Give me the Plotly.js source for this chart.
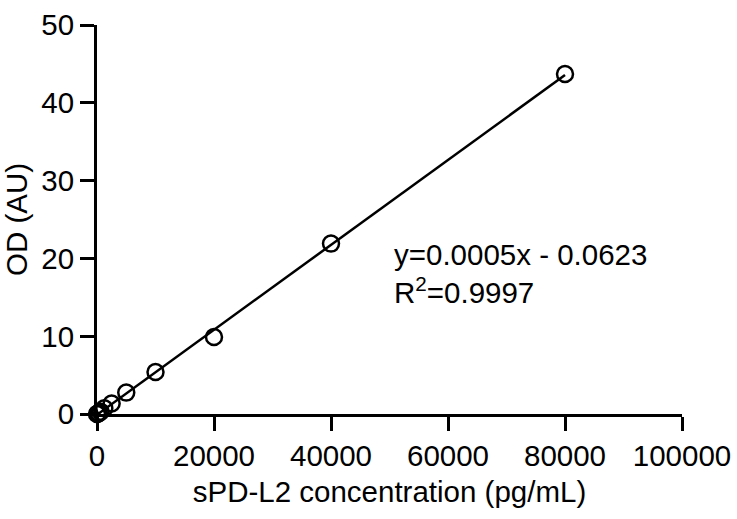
<!DOCTYPE html>
<html>
<head>
<meta charset="utf-8">
<script src="https://cdn.plot.ly/plotly-3.0.1.min.js"></script>
<style>
  html, body { margin: 0; padding: 0; background: #fff; }
  #chart { width: 737px; height: 519px; }
</style>
</head>
<body>
<div id="chart"></div>
<script>
// Standard curve: sPD-L2 concentration vs optical density
const concentration = [0, 156.25, 312.5, 625, 1250, 2500, 5000, 10000, 20000, 40000, 80000];
const od = [0, 0.05, 0.12, 0.3, 0.75, 1.35, 2.75, 5.4, 9.9, 21.9, 43.7];
const xTicks = [0, 20000, 40000, 60000, 80000, 100000];
const yTicks = [0, 10, 20, 30, 40, 50];
const equationText = "y=0.0005x - 0.0623";
const r2Text = "R<sup>2</sup>=0.9997";

// Ordinary least-squares fit through the standards
function linearFit(xs, ys) {
  const n = xs.length;
  const mx = xs.reduce((a, b) => a + b, 0) / n;
  const my = ys.reduce((a, b) => a + b, 0) / n;
  let sxy = 0, sxx = 0;
  for (let i = 0; i < n; i++) {
    sxy += (xs[i] - mx) * (ys[i] - my);
    sxx += (xs[i] - mx) * (xs[i] - mx);
  }
  const slope = sxy / sxx;
  return { slope: slope, intercept: my - slope * mx };
}
const fit = linearFit(concentration, od);
const fitX = [Math.min(...concentration), Math.max(...concentration)];
const fitY = fitX.map(x => fit.slope * x + fit.intercept);

const font = { family: "Liberation Sans, Arial, Helvetica, sans-serif", size: 29.5, color: "#000" };

const traces = [
  {
    x: fitX, y: fitY, mode: "lines", type: "scatter",
    line: { color: "#000", width: 2.5 },
    hoverinfo: "skip", cliponaxis: false
  },
  {
    x: concentration, y: od, mode: "markers", type: "scatter",
    marker: { symbol: "circle-open", size: 16, color: "#000", line: { color: "#000", width: 2.5 } },
    cliponaxis: false
  }
];

const axisCommon = {
  showgrid: false, zeroline: false,
  showline: true, linecolor: "#000", linewidth: 3,
  ticks: "outside", ticklen: 14, tickwidth: 3, tickcolor: "#000",
  tickfont: font, tickmode: "array"
};

const layout = {
  width: 737, height: 519,
  margin: { l: 97, r: 55, t: 25, b: 105 },
  paper_bgcolor: "#fff", plot_bgcolor: "#fff",
  showlegend: false,
  font: font,
  xaxis: Object.assign({}, axisCommon, {
    range: [0, 100000], tickvals: xTicks, ticktext: xTicks.map(String),
    title: { text: "sPD-L2 concentration (pg/mL)", font: font, standoff: 10 }
  }),
  yaxis: Object.assign({}, axisCommon, {
    range: [0, 50], tickvals: yTicks, ticktext: yTicks.map(String),
    title: { text: "OD (AU)", font: font, standoff: 6 }
  }),
  annotations: [
    {
      xref: "paper", yref: "paper", x: 0.505, y: 0.36,
      xanchor: "left", yanchor: "middle", align: "left",
      text: equationText + "<br>" + r2Text,
      showarrow: false, font: font
    }
  ]
};

Plotly.newPlot("chart", traces, layout, { displayModeBar: false, staticPlot: true });
</script>
</body>
</html>
